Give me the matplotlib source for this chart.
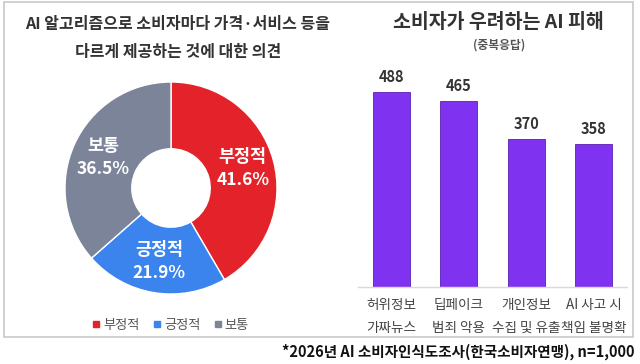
import matplotlib
matplotlib.use("Agg")
import matplotlib.pyplot as plt
from matplotlib.patches import Rectangle
from matplotlib.lines import Line2D
import numpy as np

plt.rcParams['font.family'] = ['Noto Sans CJK KR', 'DejaVu Sans']

# ---- data ----
pie_labels = ['부정적', '긍정적', '보통']
pie_values = [41.6, 21.9, 36.5]
pie_colors = ['#E32329', '#3B84EE', '#7B8499']

bar_labels = ['허위정보\n가짜뉴스', '딥페이크\n범죄 악용', '개인정보\n수집 및 유출', 'AI 사고 시\n책임 불명확']
bar_values = [488, 465, 370, 358]
bar_color = '#7F33F0'

left_title = 'AI 알고리즘으로 소비자마다 가격·서비스 등을\n다르게 제공하는 것에 대한 의견'
right_title = '소비자가 우려하는 AI 피해'
right_sub = '(중복응답)'
footer = '*2026년 AI 소비자인식도조사(한국소비자연맹), n=1,000'

W, H = 640, 364
fig = plt.figure(figsize=(W / 100, H / 100), dpi=100)
fig.patch.set_facecolor('white')


def fx(px):
    return px / W


def fy(py):
    return 1 - py / H


# outer border
fig.patches.append(Rectangle((fx(4), fy(337)), fx(633 - 4), (337 - 2) / H,
                             transform=fig.transFigure, fill=False,
                             edgecolor='#C8C8C8', linewidth=1.2))

# ---- donut ----
cx, cy, r = 171, 188, 106
ax1 = fig.add_axes([fx(cx - r), fy(cy + r), 2 * r / W, 2 * r / H])
wedges, _ = ax1.pie(pie_values, colors=pie_colors, startangle=90, counterclock=False,
                    radius=1.0,
                    wedgeprops=dict(width=0.63, edgecolor='white', linewidth=1.0))
ax1.set_xlim(-1, 1)
ax1.set_ylim(-1, 1)
ax1.set_aspect('equal')
ax1.axis('off')
for w, lab, val in zip(wedges, pie_labels, pie_values):
    ang = np.deg2rad((w.theta1 + w.theta2) / 2)
    rr = 0.70
    ax1.text(rr * np.cos(ang), rr * np.sin(ang), f'{lab}\n{val:.1f}%',
             ha='center', va='center', color='white', fontsize=12.5,
             fontweight='bold', linespacing=1.35)

# legend
handles = [Line2D([0], [0], marker='s', linestyle='none', markersize=4.2,
                  markerfacecolor=c, markeredgecolor=c) for c in pie_colors]
fig.legend(handles, pie_labels, loc='center', bbox_to_anchor=(fx(171), fy(325)),
           ncol=3, frameon=False, fontsize=9.5, handlelength=0.5, handletextpad=0.25,
           columnspacing=1.1, labelcolor='#555555')

# ---- bars ----
ax2 = fig.add_axes([fx(358), fy(287), fx(627 - 358), (287 - 67) / H])
x = np.arange(len(bar_values))
ax2.bar(x, bar_values, width=0.55, color=bar_color, edgecolor='#5A20B0', linewidth=0.6)
ax2.set_xlim(-0.5, 3.5)
ax2.set_ylim(0, 550)
for xi, v in zip(x, bar_values):
    ax2.annotate(f'{v}', (xi, v), xytext=(0, 5), textcoords='offset points',
                 ha='center', va='bottom', fontsize=10.5, fontweight='bold', color='#333333')
for s in ['top', 'right', 'left']:
    ax2.spines[s].set_visible(False)
ax2.spines['bottom'].set_color('#D9D9D9')
ax2.spines['bottom'].set_linewidth(1.0)
ax2.set_yticks([])
ax2.set_xticks(x)
ax2.set_xticklabels(bar_labels, fontsize=9.8, color='#444444', linespacing=1.8)
ax2.tick_params(axis='x', length=0, pad=8)

# ---- titles ----
fig.text(fx(178), fy(38), left_title, ha='center', va='center', fontsize=11.5,
         fontweight='bold', color='#333333', linespacing=1.95)
fig.text(fx(498), fy(22), right_title, ha='center', va='center', fontsize=14,
         fontweight='bold', color='#333333')
fig.text(fx(499), fy(45), right_sub, ha='center', va='center', fontsize=8.5,
         fontweight='bold', color='#555555')
fig.text(fx(635), fy(352), footer, ha='right', va='center', fontsize=10.5,
         fontweight='bold', color='#111111')

fig.savefig('out.png', dpi=100)
